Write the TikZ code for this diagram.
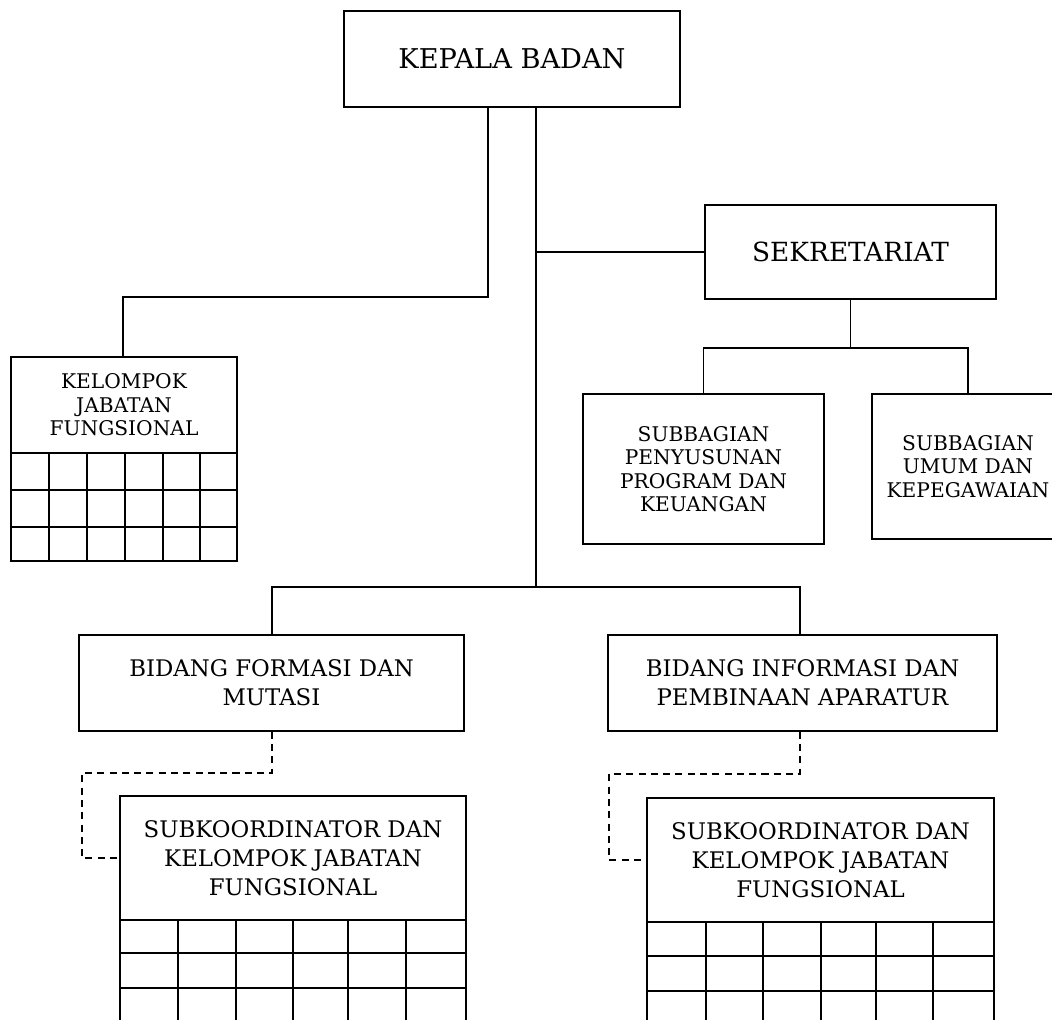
\documentclass[tikz,border=0pt]{standalone}
\usepackage{fontspec}
\setmainfont{DejaVu Serif}
\usepackage{tikz}

\begin{document}
\begin{tikzpicture}[x=0.02cm,y=-0.02cm]
	 \tikzstyle{unit}=[draw,line width=0.8pt,align=center,inner sep=2pt]
	 \tikzstyle{big unit}=[unit,font=\fontsize{15.5}{18}\selectfont]
	 \tikzstyle{mid unit}=[unit,font=\fontsize{13}{16.4}\selectfont]
	 \tikzstyle{small unit}=[unit,font=\fontsize{11.5}{13.4}\selectfont]
	 \tikzstyle{edge} = [draw,line width=0.8pt,-,black]
	 \tikzstyle{dashed edge} = [edge,dash pattern=on 4pt off 3pt]
	 \clip (0,0) rectangle (1052,1020);
	 \node[big unit,minimum width=6.72cm,minimum height=1.92cm] (kepala) at (512,59) {KEPALA BADAN};
	 \node[big unit,font=\fontsize{15}{18}\selectfont,minimum width=5.82cm,minimum height=1.88cm] (sekret) at (850.5,252) {SEKRETARIAT};
	 \node[small unit,minimum width=4.52cm,minimum height=1.92cm] (kel) at (124,405) {KELOMPOK\\JABATAN\\FUNGSIONAL};
	 \node[small unit,minimum width=4.82cm,minimum height=3.00cm] (subprog) at (703.5,469) {SUBBAGIAN\\PENYUSUNAN\\PROGRAM DAN\\KEUANGAN};
	 \node[small unit,minimum width=3.84cm,minimum height=2.90cm] (subumum) at (968,466.5) {SUBBAGIAN\\UMUM DAN\\KEPEGAWAIAN};
	 \node[mid unit,minimum width=7.70cm,minimum height=1.92cm] (bidf) at (271.5,683) {BIDANG FORMASI DAN\\MUTASI};
	 \node[mid unit,minimum width=7.78cm,minimum height=1.92cm] (bidi) at (802.5,683) {BIDANG INFORMASI DAN\\PEMBINAAN APARATUR};
	 \node[mid unit,minimum width=6.92cm,minimum height=2.48cm] (subf) at (293,858) {SUBKOORDINATOR DAN\\KELOMPOK JABATAN\\FUNGSIONAL};
	 \node[mid unit,minimum width=6.94cm,minimum height=2.48cm] (subi) at (820.5,860) {SUBKOORDINATOR DAN\\KELOMPOK JABATAN\\FUNGSIONAL};
	 \coordinate (k1) at (488,297);
	 \coordinate (k2) at (123,297);
	 \coordinate (c1) at (536,587);
	 \coordinate (c2) at (272,587);
	 \coordinate (c3) at (800,587);
	 \coordinate (s1) at (850.5,348);
	 \coordinate (s2) at (703.5,348);
	 \coordinate (s3) at (968,348);
	 \coordinate (df1) at (272,773);
	 \coordinate (df2) at (82,773);
	 \coordinate (di1) at (800,774);
	 \coordinate (di2) at (609,774);
	 \draw[edge] (kepala.south -| k1) -- (k1) -- (k2) -- (kel.north -| k2);
	 \draw[edge] (kepala.south -| c1) -- (c1);
	 \draw[edge] (c1 |- sekret.west) -- (sekret.west);
	 \draw[edge] (c2 |- bidf.north) -- (c2) -- (c3) -- (bidi.north -| c3);
	 \draw[edge] (sekret.south) -- (s1);
	 \draw[edge] (subprog.north) -- (s2) -- (s3) -- (subumum.north);
	 \draw[dashed edge] (bidf.south -| df1) -- (df1) -- (df2) -- (df2 |- subf.west) -- (subf.west);
	 \draw[dashed edge] (bidi.south -| di1) -- (di1) -- (di2) -- (di2 |- subi.west) -- (subi.west);
	 \draw[edge] (11,453) rectangle (237,561);
	 \draw[edge] (11,490) -- (237,490) (11,527) -- (237,527);
	 \foreach \x in {49,87,125,163,200}
	 	\draw[edge] (\x,453) -- (\x,561);
	 \draw[edge] (120,920) rectangle (466,1040);
	 \draw[edge] (120,953) -- (466,953) (120,988) -- (466,988);
	 \foreach \x in {178,236,293,348,406}
	 	\draw[edge] (\x,920) -- (\x,1040);
	 \draw[edge] (647,922) rectangle (994,1040);
	 \draw[edge] (647,956) -- (994,956) (647,991) -- (994,991);
	 \foreach \x in {706,763,821,876,933}
	 	\draw[edge] (\x,922) -- (\x,1040);
\end{tikzpicture}
\end{document}
